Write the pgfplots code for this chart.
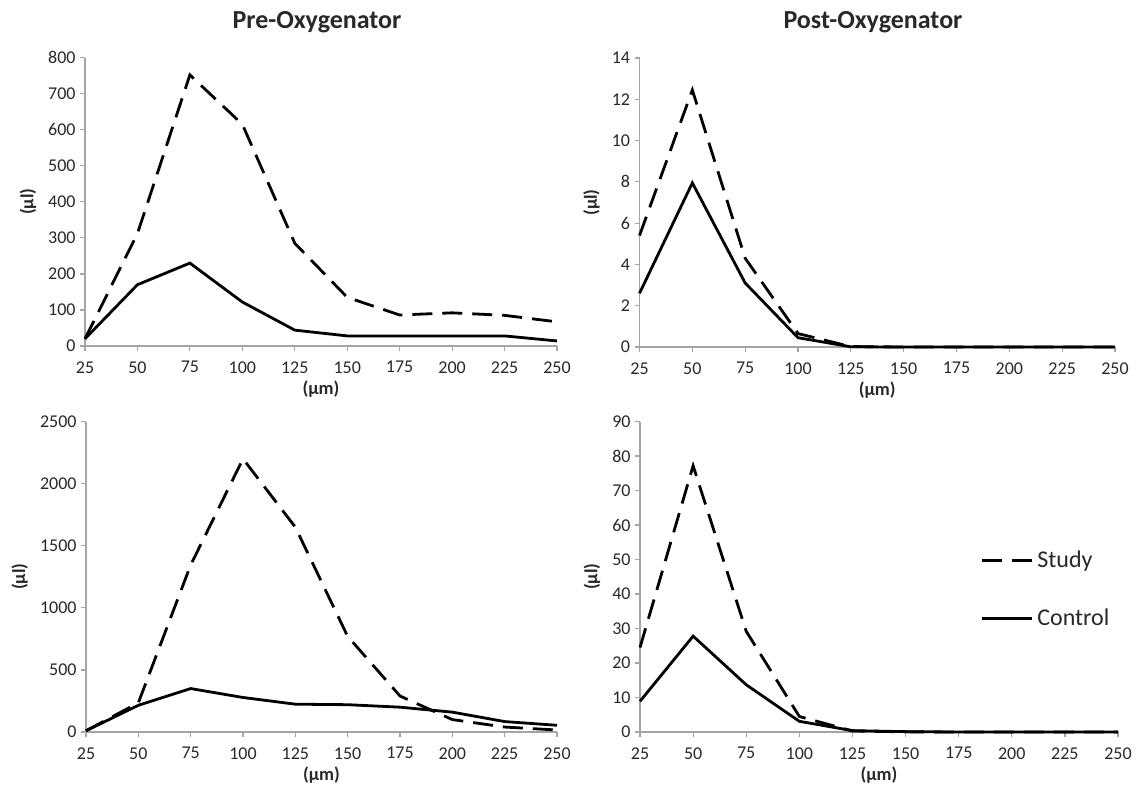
\documentclass[border=0pt]{standalone}
\usepackage{fontspec}
\setmainfont{Carlito}
\usepackage{pgfplots}
\pgfplotsset{compat=1.18}

% pre-oxygenator, top row
\pgfplotstableread{
x study control
25 20 20
50 312 170
75 752 230
100 615 122
125 285 44
150 135 28
175 86 28
200 92 28
225 85 28
250 67 14
}\preA
% post-oxygenator, top row
\pgfplotstableread{
x study control
25 5.4 2.6
50 12.45 7.95
75 4.3 3.1
100 0.65 0.45
125 0.02 0.01
150 0 0
175 0 0
200 0 0
225 0 0
250 0 0
}\postA
% pre-oxygenator, bottom row
\pgfplotstableread{
x study control
25 10 10
50 235 215
75 1345 350
100 2200 278
125 1650 224
150 770 220
175 290 200
200 100 160
225 40 84
250 16 54
}\preB
% post-oxygenator, bottom row
\pgfplotstableread{
x study control
25 24.5 8.9
50 77.2 27.8
75 29.2 13.7
100 4.5 3.1
125 0.3 0.4
150 0.05 0.1
175 0 0
200 0 0
225 0 0
250 0 0
}\postB

\definecolor{axgray}{RGB}{165,165,165}
\definecolor{txt}{RGB}{40,40,40}

\pgfplotsset{
  panel/.style={
    scale only axis,
    anchor=south west,
    axis lines=left,
    axis line style={-, draw=axgray, line width=0.6pt},
    tick style={draw=axgray, line width=0.6pt},
    tick align=outside,
    major tick length=2.5pt,
    xmin=25, xmax=250, xtick distance=25,
    ymin=0,
    clip=false,
    /pgf/number format/assume math mode=true,
    /pgf/number format/1000 sep={},
    ticklabel style={font=\fontsize{9}{10}\selectfont, text=txt, inner sep=2pt},
    xticklabel style={yshift=-3pt},
    xlabel={\textbf{(µm)}},
    ylabel={\textbf{(µl)}},
    label style={font=\fontsize{9.2}{10}\selectfont, text=txt},
    xlabel style={yshift=1.5pt},
    ylabel style={yshift=0.5pt},
  },
  study/.style={black, line width=1.4pt, dash pattern=on 10pt off 5pt},
  control/.style={black, line width=1.4pt},
}

\begin{document}
\begin{tikzpicture}
\path[use as bounding box] (0pt,0pt) rectangle (569pt,-392.5pt);

\node[font=\bfseries\fontsize{13}{15}\selectfont, text=txt] at (158.5pt,-10.9pt) {Pre-Oxygenator};
\node[font=\bfseries\fontsize{13}{15}\selectfont, text=txt] at (436.5pt,-10.9pt) {Post-Oxygenator};

\begin{axis}[panel, at={(42.5pt,-173pt)}, width=236pt, height=144.2pt,
  ymax=800, ytick distance=100]
  \addplot[study] table[x=x, y=study] {\preA};
  \addplot[control] table[x=x, y=control] {\preA};
\end{axis}

\begin{axis}[panel, at={(319.75pt,-173.5pt)}, width=237.75pt, height=144.5pt,
  ymax=14, ytick distance=2]
  \addplot[study] table[x=x, y=study] {\postA};
  \addplot[control] table[x=x, y=control] {\postA};
\end{axis}

\begin{axis}[panel, at={(43pt,-366pt)}, width=235.5pt, height=155.2pt,
  ymax=2500, ytick distance=500]
  \addplot[study] table[x=x, y=study] {\preB};
  \addplot[control] table[x=x, y=control] {\preB};
\end{axis}

\begin{axis}[panel, at={(320pt,-366pt)}, width=239pt, height=155.2pt,
  ymax=90, ytick distance=10,
  legend style={draw=none, fill=none, at={(0.699,0.459)}, anchor=west,
    font=\fontsize{12}{14}\selectfont, text=txt, row sep=15pt},
  legend cell align=left,
  legend image code/.code={\draw[#1] (0pt,0pt) -- (25pt,0pt);}]
  \addplot[study] table[x=x, y=study] {\postB};
  \addlegendentry{Study}
  \addplot[control] table[x=x, y=control] {\postB};
  \addlegendentry{Control}
\end{axis}
\end{tikzpicture}
\end{document}
